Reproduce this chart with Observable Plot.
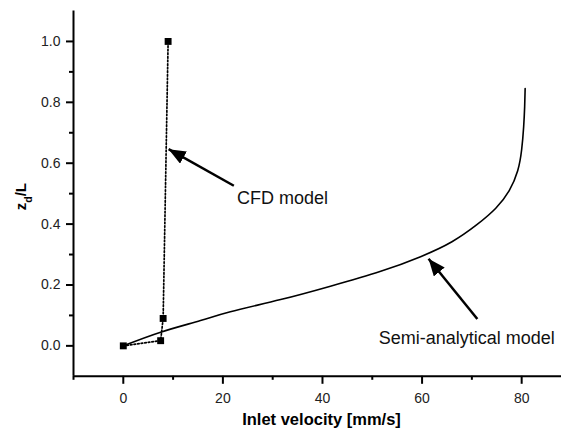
<!DOCTYPE html>
<html><head><meta charset="utf-8">
<script src="https://cdn.jsdelivr.net/npm/d3@7"></script>
<script src="https://cdn.jsdelivr.net/npm/@observablehq/plot@0.6"></script>
<style>
html,body{margin:0;padding:0;background:#fff;}
</style></head><body><div id="chart"></div>
<script>
// CFD model points
const cfdX = [0, 7.5, 8.0, 9.0];
const cfdY = [0, 0.017, 0.09, 1.0];
// Semi-analytical model curve
const semiX = [0, 7.5, 15.5, 21.5, 31.6, 41.6, 51.7, 59.7, 66.0, 71.0, 74.8, 77.5, 79.2, 80.0, 80.4, 80.6, 80.7];
const semiY = [0, 0.045, 0.083, 0.112, 0.152, 0.196, 0.245, 0.293, 0.342, 0.398, 0.452, 0.51, 0.575, 0.645, 0.72, 0.785, 0.845];
// ticks
const xTicks = [0, 20, 40, 60, 80];
const xTickLabels = ["0", "20", "40", "60", "80"];
const xMinor = [-10, 10, 30, 50, 70];
const yTicks = [0, 0.2, 0.4, 0.6, 0.8, 1.0];
const yTickLabels = ["0.0", "0.2", "0.4", "0.6", "0.8", "1.0"];
const yMinor = [0.1, 0.3, 0.5, 0.7, 0.9];
// annotations
const annText = ["CFD model", "Semi-analytical model"];
const annX = [22.85, 51.3];
const annY = [0.484, 0.025];
const arrowX1 = [22.2, 71.1];
const arrowY1 = [0.526, 0.0885];
const arrowX2 = [9.1, 61.3];
const arrowY2 = [0.646, 0.286];
const xLabel = "Inlet velocity [mm/s]";
const yLabel = "zd/L";

function filledArrow(color, context) {
  const doc = (context && context.document) || document;
  const m = doc.createElementNS("http://www.w3.org/2000/svg", "marker");
  m.setAttribute("viewBox", "-17 -7 17 14");
  m.setAttribute("markerWidth", "17");
  m.setAttribute("markerHeight", "14");
  m.setAttribute("markerUnits", "userSpaceOnUse");
  m.setAttribute("refX", "0");
  m.setAttribute("refY", "0");
  m.setAttribute("orient", "auto");
  const p = doc.createElementNS("http://www.w3.org/2000/svg", "path");
  p.setAttribute("d", "M-17,-7L0,0L-17,7Z");
  p.setAttribute("fill", color);
  p.setAttribute("stroke", "none");
  m.appendChild(p);
  return m;
}

const font = "'Liberation Sans', Arial, sans-serif";
const plot = Plot.plot({
  width: 562, height: 430,
  marginLeft: 73, marginRight: 1, marginTop: 10.5, marginBottom: 54.2,
  style: {fontFamily: font, background: "#fff", color: "#000", overflow: "visible"},
  x: {domain: [-10, 88]},
  y: {domain: [-0.1, 1.1]},
  marks: [
    Plot.axisX({ticks: xTicks, tickSize: 8, tickPadding: 9, tickFormat: (d, i) => xTickLabels[i], fontSize: 14, strokeWidth: 2, stroke: "#000", fill: "#222", label: null}),
    Plot.axisX({ticks: xMinor, tickSize: 4, tickFormat: () => "", strokeWidth: 2, stroke: "#000", label: null}),
    Plot.axisY({ticks: yTicks, tickSize: 7, tickPadding: 6, tickFormat: (d, i) => yTickLabels[i], fontSize: 14, strokeWidth: 2, stroke: "#000", fill: "#222", label: null}),
    Plot.axisY({ticks: yMinor, tickSize: 4, tickFormat: () => "", strokeWidth: 2, stroke: "#000", label: null}),
    Plot.ruleX([-10], {strokeWidth: 2}),
    Plot.ruleY([-0.1], {strokeWidth: 2}),
    Plot.line(semiX.map((x, i) => [x, semiY[i]]), {x: d => d[0], y: d => d[1], curve: "natural", stroke: "#000", strokeWidth: 1.6}),
    Plot.line(cfdX.map((x, i) => [x, cfdY[i]]), {x: d => d[0], y: d => d[1], stroke: "#000", strokeWidth: 1.7, strokeDasharray: "1.6,2"}),
    Plot.dot(cfdX.map((x, i) => [x, cfdY[i]]), {x: d => d[0], y: d => d[1], symbol: "square", r: 3.9, fill: "#000", stroke: "none"}),
    Plot.link(d3.range(arrowX1.length), {x1: arrowX1, y1: arrowY1, x2: arrowX2, y2: arrowY2, stroke: "#000", strokeWidth: 2.5, markerEnd: filledArrow}),
    Plot.text(annText, {x: annX, y: annY, text: d => d, textAnchor: "start", lineAnchor: "middle", fontSize: 18, fill: "#111"}),
    Plot.text([xLabel], {frameAnchor: "bottom", dx: 4, dy: 36.5, lineAnchor: "top", text: d => d, fontSize: 16.5, fontWeight: "bold", fill: "#000"}),
    Plot.text([yLabel], {frameAnchor: "left", dx: -52, dy: 3, rotate: -90, lineAnchor: "middle", textAnchor: "middle", text: d => d, fontSize: 15, fontWeight: "bold", fill: "#000"})
  ]
});
document.getElementById("chart").appendChild(plot);
// subscript for z_d/L
d3.select(plot).selectAll("text").filter(function() { return this.textContent === yLabel; }).each(function() {
  const t = d3.select(this);
  t.text(null);
  t.append("tspan").text("z");
  t.append("tspan").attr("baseline-shift", "sub").attr("font-size", "10.5").text("d");
  t.append("tspan").text("/L");
});
</script></body></html>
